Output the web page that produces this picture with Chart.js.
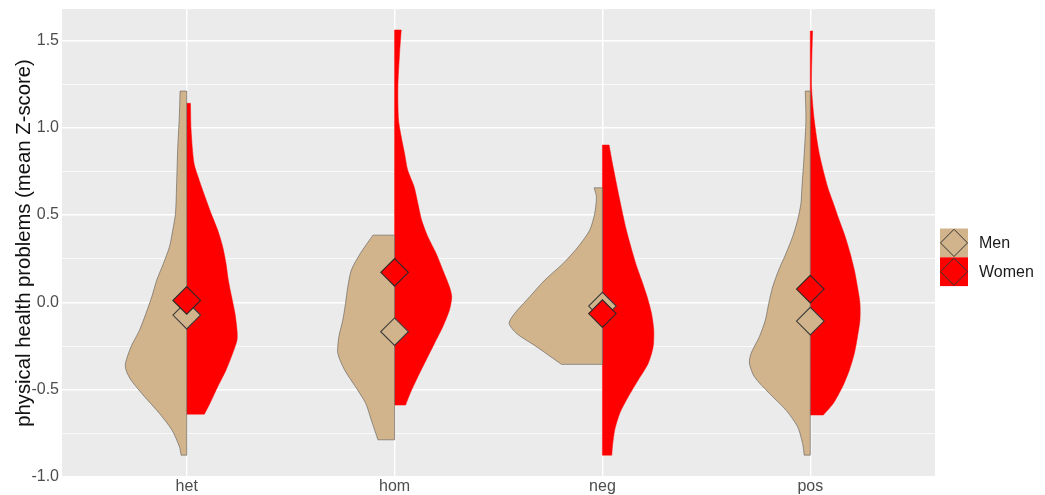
<!DOCTYPE html>
<html>
<head>
<meta charset="utf-8">
<script src="https://cdn.jsdelivr.net/npm/chart.js@4.4.1/dist/chart.umd.min.js"></script>
<style>
html, body { margin: 0; padding: 0; background: #ffffff; }
#wrap { width: 1045px; height: 495px; }
</style>
</head>
<body>
<div id="wrap"><canvas id="c" width="1045" height="495"></canvas></div>
<script>
// ---------------- data ----------------
const categories = ['het', 'hom', 'neg', 'pos'];
const seriesNames = ['Men', 'Women'];
const seriesColors = ['#D2B48C', '#FF0000'];

const menMeans = [-0.073, -0.168, -0.021, -0.107];
const womenMeans = [0.011, 0.172, -0.064, 0.076];

// half-violin outlines: value (y) and half-width (in category units)
const hetMenY = [1.21, 1.08, 0.89, 0.70, 0.51, 0.414, 0.318, 0.223, 0.128, 0.032, -0.063, -0.159, -0.254, -0.35, -0.388, -0.445, -0.54, -0.636, -0.731, -0.827, -0.875];
const hetMenW = [0.032, 0.035, 0.043, 0.048, 0.054, 0.067, 0.083, 0.112, 0.144, 0.168, 0.196, 0.227, 0.268, 0.295, 0.292, 0.268, 0.203, 0.131, 0.071, 0.035, 0.027];
const hetWomenY = [1.14, 0.987, 0.796, 0.70, 0.605, 0.51, 0.414, 0.318, 0.223, 0.128, 0.032, -0.063, -0.159, -0.216, -0.292, -0.388, -0.483, -0.578, -0.64];
const hetWomenW = [0.018, 0.021, 0.035, 0.060, 0.088, 0.117, 0.149, 0.173, 0.189, 0.200, 0.216, 0.232, 0.242, 0.242, 0.221, 0.189, 0.149, 0.112, 0.085];

const homMenY = [0.385, 0.28, 0.185, 0.089, -0.006, -0.101, -0.197, -0.292, -0.388, -0.483, -0.578, -0.674, -0.787];
const homMenW = [0.104, 0.165, 0.208, 0.225, 0.236, 0.249, 0.268, 0.273, 0.240, 0.188, 0.139, 0.112, 0.080];
const homWomenY = [1.56, 1.426, 1.235, 1.044, 0.948, 0.853, 0.758, 0.662, 0.567, 0.471, 0.376, 0.28, 0.185, 0.089, 0.032, -0.044, -0.14, -0.235, -0.33, -0.426, -0.521, -0.588];
const homWomenW = [0.032, 0.024, 0.016, 0.019, 0.032, 0.048, 0.063, 0.094, 0.112, 0.130, 0.160, 0.200, 0.232, 0.264, 0.275, 0.264, 0.232, 0.192, 0.152, 0.112, 0.075, 0.053];

const negMenY = [0.656, 0.605, 0.51, 0.414, 0.318, 0.223, 0.128, 0.032, -0.063, -0.12, -0.178, -0.254, -0.355];
const negMenW = [0.040, 0.029, 0.037, 0.061, 0.117, 0.189, 0.277, 0.350, 0.422, 0.449, 0.413, 0.317, 0.197];
const negWomenY = [0.901, 0.796, 0.605, 0.414, 0.223, 0.128, 0.032, -0.063, -0.159, -0.254, -0.35, -0.445, -0.541, -0.636, -0.731, -0.827, -0.875];
const negWomenW = [0.032, 0.048, 0.080, 0.115, 0.160, 0.188, 0.215, 0.236, 0.247, 0.244, 0.220, 0.172, 0.124, 0.083, 0.059, 0.048, 0.045];

const posMenY = [1.21, 1.044, 0.853, 0.662, 0.567, 0.471, 0.376, 0.28, 0.185, 0.089, -0.006, -0.101, -0.197, -0.292, -0.349, -0.426, -0.521, -0.617, -0.712, -0.808, -0.875];
const posMenW = [0.024, 0.021, 0.029, 0.040, 0.045, 0.061, 0.085, 0.117, 0.152, 0.181, 0.200, 0.216, 0.245, 0.285, 0.293, 0.269, 0.197, 0.117, 0.061, 0.037, 0.029];
const posWomenY = [1.554, 1.426, 1.235, 1.044, 0.853, 0.662, 0.567, 0.471, 0.376, 0.28, 0.185, 0.089, -0.006, -0.101, -0.197, -0.292, -0.388, -0.483, -0.578, -0.645];
const posWomenW = [0.011, 0.008, 0.006, 0.019, 0.043, 0.083, 0.111, 0.139, 0.168, 0.192, 0.212, 0.227, 0.239, 0.239, 0.227, 0.212, 0.188, 0.155, 0.111, 0.063];

const yMajorTicks = [-1.0, -0.5, 0.0, 0.5, 1.0, 1.5];
const yTickLabels = ['-1.0', '-0.5', '0.0', '0.5', '1.0', '1.5'];
const yMinorTicks = [-0.75, -0.25, 0.25, 0.75, 1.25];
const yTitle = 'physical health problems (mean Z-score)';

// ---------------- build ----------------
const menShapes = [[hetMenY, hetMenW], [homMenY, homMenW], [negMenY, negMenW], [posMenY, posMenW]];
const womenShapes = [[hetWomenY, hetWomenW], [homWomenY, homWomenW], [negWomenY, negWomenW], [posWomenY, posWomenW]];

function halfViolin(ci, ys, ws, side) {
  const n = ys.length;
  const pts = [];
  pts.push({x: ci, y: ys[0]});
  pts.push({x: ci + side * ws[0], y: ys[0]});
  for (let i = 0; i < n; i++) pts.push({x: ci + side * ws[i], y: ys[i]});
  pts.push({x: ci + side * ws[n - 1], y: ys[n - 1]});
  pts.push({x: ci, y: ys[n - 1]});
  pts.push({x: ci, y: ys[n - 1]});
  pts.push({x: ci, y: ys[0]});
  return pts;
}

const datasets = [];
// mean markers (first = drawn on top)
datasets.push({
  label: 'WomenMean', data: womenMeans.map((v, i) => ({x: i, y: v})),
  showLine: false, pointStyle: 'rectRot', pointRadius: 13.8, pointHoverRadius: 13.8,
  pointBackgroundColor: seriesColors[1], pointBorderColor: '#2a2a2a', pointBorderWidth: 1.1
});
datasets.push({
  label: 'MenMean', data: menMeans.map((v, i) => ({x: i, y: v})),
  showLine: false, pointStyle: 'rectRot', pointRadius: 13.8, pointHoverRadius: 13.8,
  pointBackgroundColor: seriesColors[0], pointBorderColor: '#3a3a3a', pointBorderWidth: 1.1
});
menShapes.forEach(([ys, ws], i) => {
  datasets.push({
    label: 'Men ' + categories[i], data: halfViolin(i, ys, ws, -1),
    indexAxis: 'y', fill: 'shape', tension: 0.25, pointRadius: 0,
    backgroundColor: seriesColors[0], borderColor: 'rgba(80,80,80,0.8)', borderWidth: 0.7
  });
});
womenShapes.forEach(([ys, ws], i) => {
  datasets.push({
    label: 'Women ' + categories[i], data: halfViolin(i, ys, ws, 1),
    indexAxis: 'y', fill: 'shape', tension: 0.25, pointRadius: 0,
    backgroundColor: seriesColors[1], borderColor: seriesColors[1], borderWidth: 0.5
  });
});

const panelBg = {
  id: 'panelBg',
  beforeDraw(chart) {
    const {ctx, chartArea: a} = chart;
    ctx.save();
    ctx.fillStyle = '#EBEBEB';
    ctx.fillRect(a.left, a.top, a.right - a.left, a.bottom - a.top);
    ctx.restore();
  }
};

const sideLegend = {
  id: 'sideLegend',
  afterDraw(chart) {
    const {ctx, chartArea: a} = chart;
    const x0 = a.right + 5;
    const y0 = 228.5;
    const kw = 28, kh = 28.8;
    ctx.save();
    seriesNames.forEach((name, i) => {
      const y = y0 + i * kh;
      ctx.fillStyle = seriesColors[i];
      ctx.fillRect(x0, y, kw, kh);
      ctx.beginPath();
      ctx.moveTo(x0 + kw / 2, y + 0.8);
      ctx.lineTo(x0 + kw - 0.5, y + kh / 2);
      ctx.lineTo(x0 + kw / 2, y + kh - 0.8);
      ctx.lineTo(x0 + 0.5, y + kh / 2);
      ctx.closePath();
      ctx.strokeStyle = '#333333';
      ctx.lineWidth = 1;
      ctx.stroke();
      ctx.fillStyle = '#1a1a1a';
      ctx.font = '16px "Liberation Sans", Arial, sans-serif';
      ctx.textBaseline = 'middle';
      ctx.textAlign = 'left';
      ctx.fillText(name, x0 + 39, y + kh / 2 + 0.5);
    });
    ctx.restore();
  }
};

Chart.defaults.font.family = '"Liberation Sans", Arial, sans-serif';

new Chart(document.getElementById('c'), {
  type: 'line',
  data: {datasets},
  options: {
    responsive: false,
    animation: false,
    devicePixelRatio: 1,
    events: [],
    indexAxis: 'y',
    layout: {autoPadding: false, padding: {top: 9, right: 110, bottom: 0, left: 0}},
    plugins: {legend: {display: false}, tooltip: {enabled: false}},
    scales: {
      x: {
        type: 'linear', position: 'bottom', min: -0.6, max: 3.6,
        afterBuildTicks(s) { s.ticks = categories.map((c, i) => ({value: i})); },
        afterFit(s) { s.height = 18; s.paddingLeft = 0; s.paddingRight = 0; },
        border: {display: false},
        grid: {color: '#FFFFFF', lineWidth: 1.4, drawTicks: false},
        ticks: {
          autoSkip: false, maxRotation: 0, padding: 2, color: '#4D4D4D',
          font: {size: 16, lineHeight: 1.0},
          callback: (v) => categories[v]
        }
      },
      y: {
        type: 'linear', position: 'left', min: -1.0, max: 1.68,
        afterBuildTicks(s) {
          s.ticks = yMajorTicks.concat(yMinorTicks).sort((a, b) => a - b).map(v => ({value: v}));
        },
        afterFit(s) { s.width = 62; s.paddingTop = 0; s.paddingBottom = 0; },
        border: {display: false},
        grid: {
          color: '#FFFFFF', drawTicks: false,
          lineWidth: (ctx) => (ctx.tick && yMajorTicks.includes(ctx.tick.value)) ? 1.4 : 0.7
        },
        ticks: {
          autoSkip: false, padding: 3, color: '#4D4D4D', font: {size: 16},
          callback: (v) => { const k = yMajorTicks.indexOf(v); return k >= 0 ? yTickLabels[k] : ''; }
        },
        title: {
          display: true, text: yTitle, color: '#111111',
          font: {size: 20.3}, padding: {top: 12, bottom: 0}
        }
      }
    }
  },
  plugins: [panelBg, sideLegend]
});
</script>
</body>
</html>
